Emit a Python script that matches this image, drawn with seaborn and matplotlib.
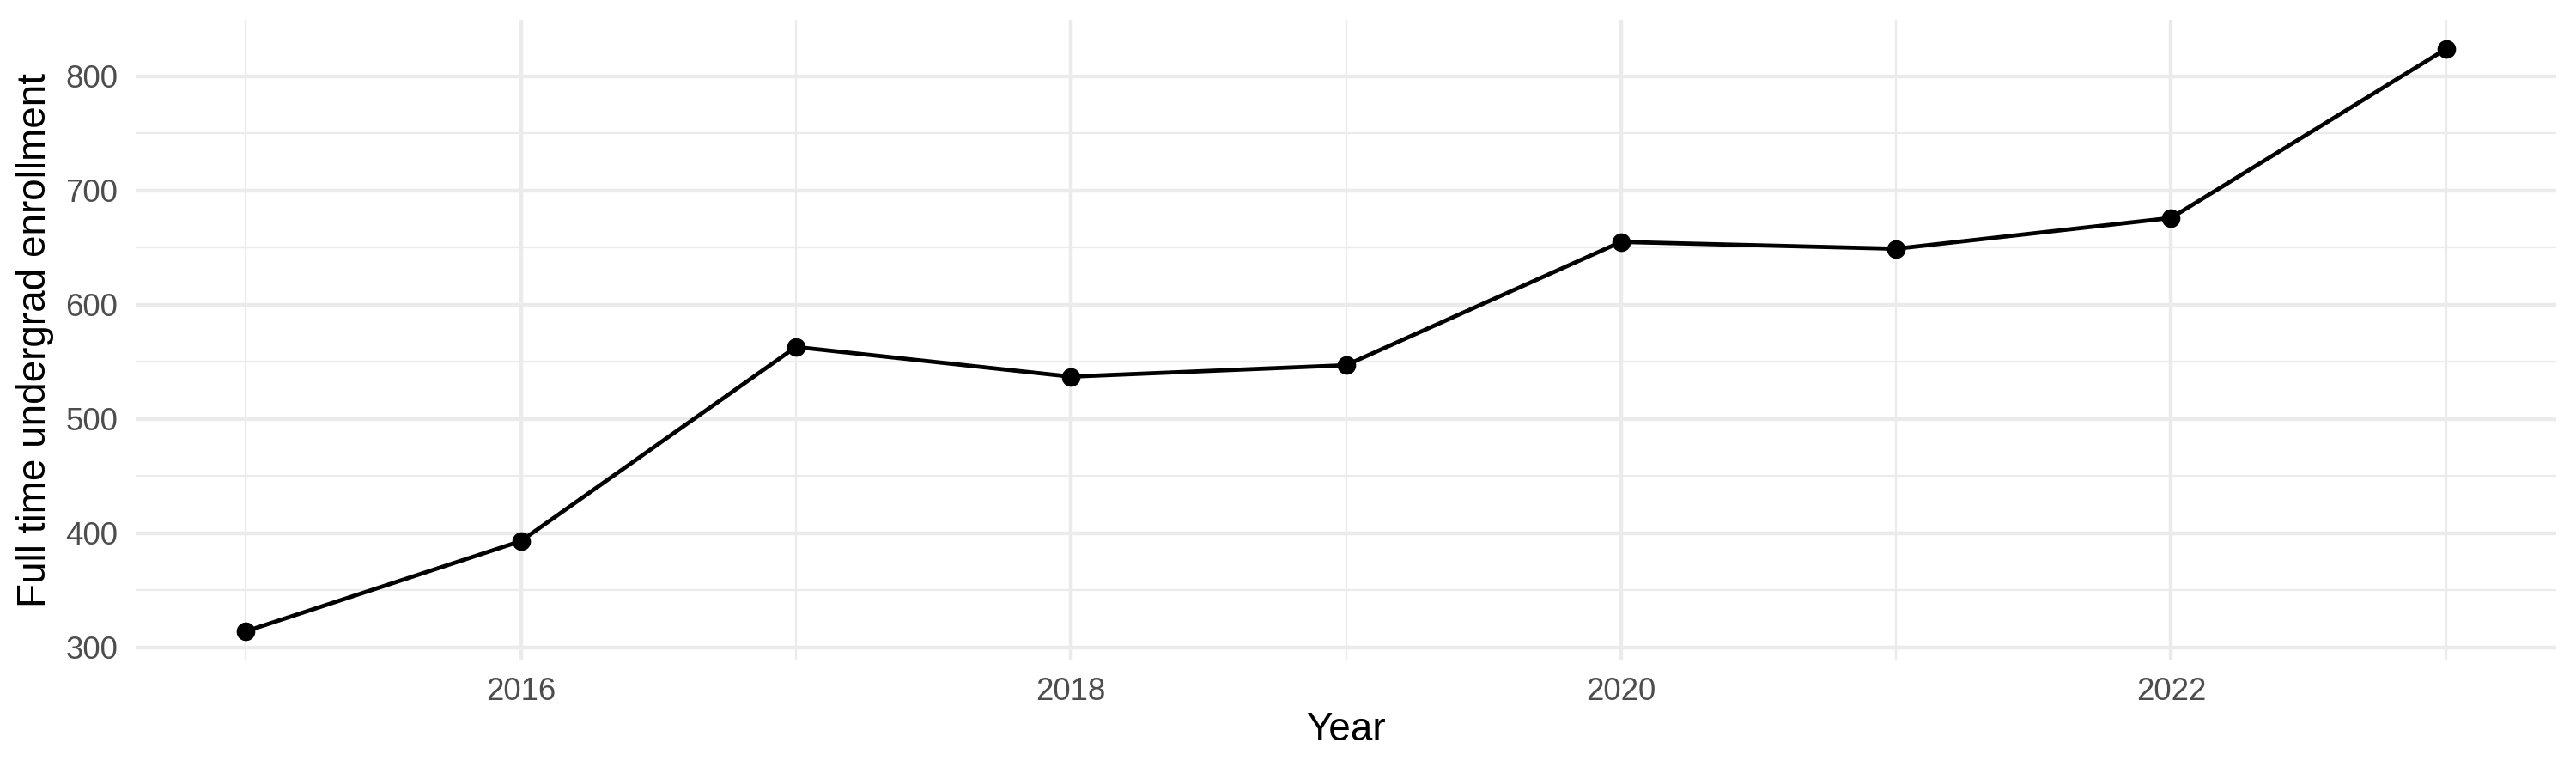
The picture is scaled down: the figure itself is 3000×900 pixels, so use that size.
import numpy as np
import pandas as pd
import matplotlib
matplotlib.use("Agg")
import matplotlib.pyplot as plt
from matplotlib.ticker import MultipleLocator
import seaborn as sns

# values
years = [2015, 2016, 2017, 2018, 2019, 2020, 2021, 2022, 2023]
enrollment = [314, 393, 563, 537, 547, 655, 649, 676, 824]

x_label = "Year"
y_label = "Full time undergrad enrollment"


def expand(lo, hi, frac=0.05):
    # ggplot-style 5% padding on a continuous scale
    pad = (hi - lo) * frac
    return lo - pad, hi + pad


def main() -> None:
    df = pd.DataFrame({"year": years, "enrollment": enrollment})

    sns.set_theme(style="white")
    plt.rcParams["font.family"] = ["Liberation Sans", "DejaVu Sans"]

    fig = plt.figure(figsize=(10, 3), dpi=300)
    ax = fig.add_axes([0.0527, 0.1456, 0.9396, 0.8288])

    sns.lineplot(data=df, x="year", y="enrollment", ax=ax, color="black",
                 linewidth=1.15, marker="o", markersize=5.2,
                 markeredgewidth=0, zorder=3)

    ax.set_xlim(*expand(min(years), max(years)))
    ax.set_ylim(*expand(min(enrollment), max(enrollment)))

    ax.xaxis.set_major_locator(MultipleLocator(2))
    ax.xaxis.set_minor_locator(MultipleLocator(1))
    ax.yaxis.set_major_locator(MultipleLocator(100))
    ax.yaxis.set_minor_locator(MultipleLocator(50))

    ax.grid(which="major", color="#EBEBEB", linewidth=1.07)
    ax.grid(which="minor", color="#EBEBEB", linewidth=0.53)
    ax.set_axisbelow(True)
    for s in ax.spines.values():
        s.set_visible(False)

    ax.tick_params(which="both", length=0)
    ax.tick_params(axis="x", labelsize=8.8, labelcolor="#4D4D4D", pad=4.5)
    ax.tick_params(axis="y", labelsize=8.8, labelcolor="#4D4D4D", pad=5)

    ax.set_xlabel(x_label, fontsize=11, color="black", va="center")
    ax.set_ylabel(y_label, fontsize=11, color="black", va="center")
    ax.xaxis.set_label_coords(0.5, -0.1086)
    ax.yaxis.set_label_coords(-0.0415, 0.5)

    fig.savefig("out.png", dpi=300, facecolor="white")


if __name__ == "__main__":
    main()
